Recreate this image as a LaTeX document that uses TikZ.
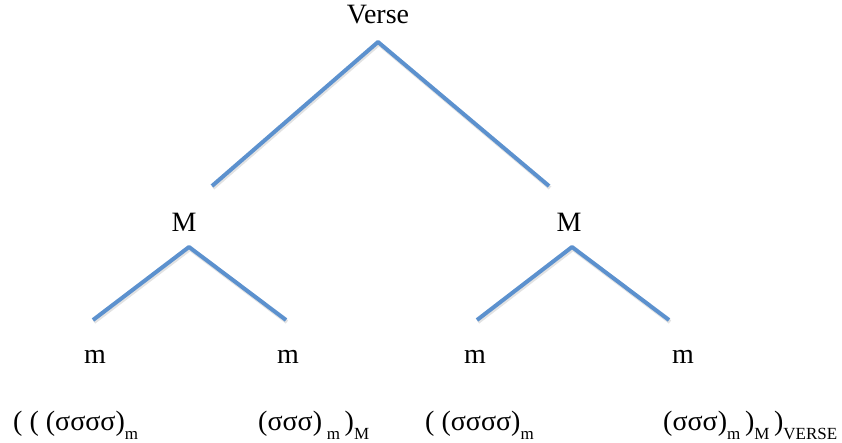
\documentclass[tikz,border=0pt]{standalone}
\usepackage{fontspec}
\setmainfont{Liberation Serif}
\definecolor{branchblue}{RGB}{92,145,206}
\tikzstyle{branch}=[branchblue, line width = 4pt, line join=round, line cap=butt]
\tikzstyle{shade1}=[black!25, line width = 4pt, opacity=0.45]
\newcommand{\lowsub}[1]{\raisebox{-9pt}{\fontsize{17}{17}\selectfont #1}}

\begin{document}
\begin{tikzpicture}[
	x=1pt, y=1pt,
	lab/.style={inner sep=0pt, font=\fontsize{28}{32}\selectfont},
	seq/.style={inner sep=0pt, anchor=base west, font=\fontsize{28}{32}\selectfont}
	]
	
	\useasboundingbox (0,0) rectangle (842,443);
	
	% labels of the tree
	\node[lab] (verse) at (378,428) {Verse};
	\node[lab] (ML) at (184,221) {M};
	\node[lab] (MR) at (569,221) {M};
	\node[lab] (m1) at (95,86) {m};
	\node[lab] (m2) at (288,86) {m};
	\node[lab] (m3) at (475,86) {m};
	\node[lab] (m4) at (683,86) {m};
	
	% ends of the branches
	\coordinate (top) at (378,401);
	\coordinate (topL) at (212,257);
	\coordinate (topR) at (549,257);
	\coordinate (apL) at (189,196);
	\coordinate (apR) at (572,196);
	\coordinate (e1) at (93,123);
	\coordinate (e2) at (286,123);
	\coordinate (e3) at (477,123);
	\coordinate (e4) at (669,123);
	
	% faint shadow first, then the branches
	\foreach \p/\q/\r in {topL/top/topR, e1/apL/e2, e3/apR/e4} {
		\draw[shade1, transform canvas={xshift=1pt, yshift=-2pt}] (\p) -- (\q) -- (\r);
		\draw[branch] (\p) -- (\q) -- (\r);
	}
	
	% the bracketed string below
	\node[seq] (s1) at (13,12) {( ( (σσσσ)\lowsub{m}};
	\node[seq] (s2) at (258,12) {(σσσ)\,\lowsub{m}\,)\lowsub{M}};
	\node[seq] (s3) at (425,12) {( (σσσσ)\lowsub{m}};
	\node[seq] (s4) at (663,12) {(σσσ)\lowsub{m}\,)\lowsub{M}\,)\lowsub{VERSE}};
	
\end{tikzpicture}
\end{document}
